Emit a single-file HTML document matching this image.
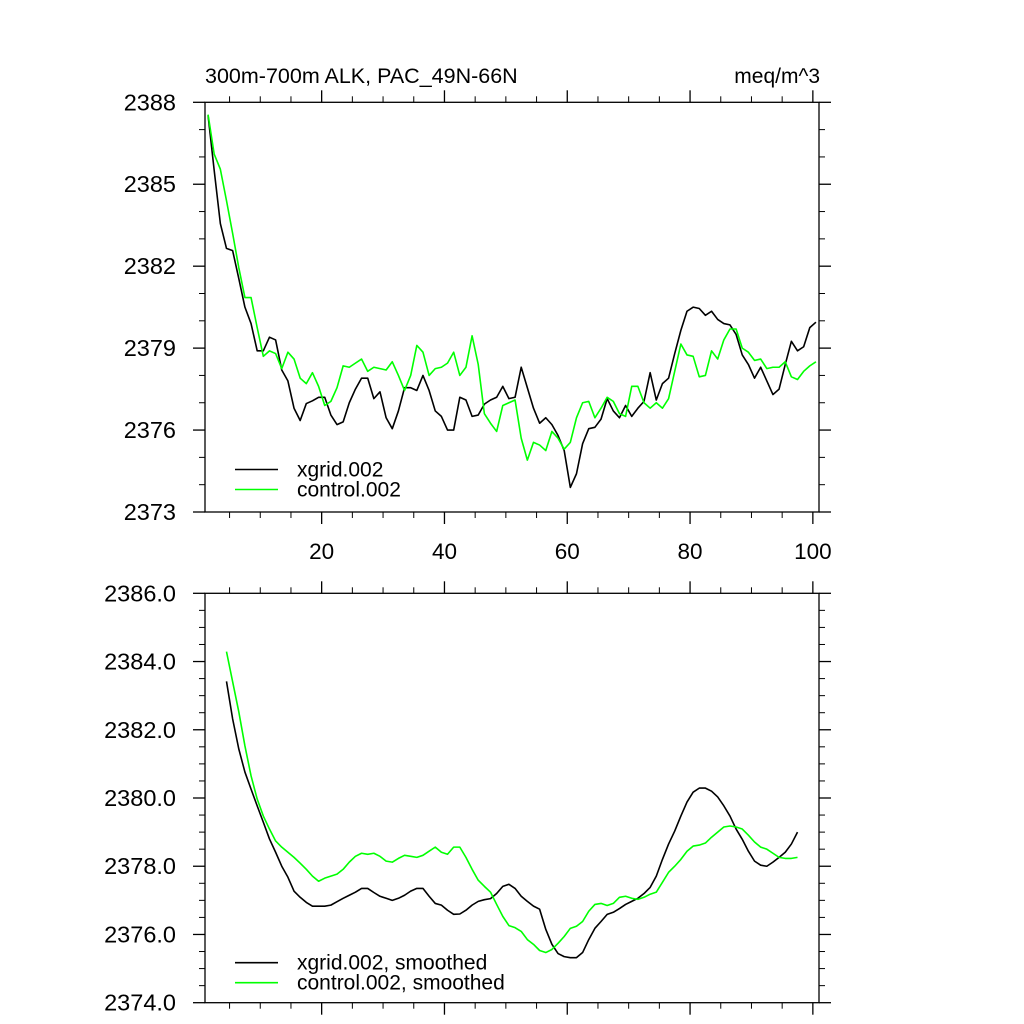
<!DOCTYPE html>
<html><head><meta charset="utf-8"><style>
html,body{margin:0;padding:0;background:#fff;}
svg{display:block;font-family:"Liberation Sans",Arial,sans-serif;}
</style></head><body>
<svg id="chart" width="1024" height="1024" viewBox="0 0 1024 1024" xmlns="http://www.w3.org/2000/svg">
<rect x="0" y="0" width="1024" height="1024" fill="#fff"/>
<text x="205" y="83" font-size="21.5">300m-700m ALK, PAC_49N-66N</text>
<text x="820" y="83" font-size="21">meq/m^3</text>
</svg>
<script>
const topXgrid=[2387.52,2385.5,2383.56,2382.65,2382.57,2381.55,2380.5,2379.9,2378.9,2378.9,2379.4,2379.3,2378.2,2377.8,2376.8,2376.35,2376.97,2377.07,2377.2,2377.2,2376.55,2376.2,2376.3,2377.0,2377.5,2377.9,2377.9,2377.15,2377.4,2376.45,2376.05,2376.7,2377.55,2377.55,2377.45,2378.0,2377.45,2376.7,2376.5,2376.0,2376.0,2377.2,2377.1,2376.5,2376.55,2376.95,2377.1,2377.2,2377.6,2377.15,2377.2,2378.3,2377.55,2376.8,2376.25,2376.45,2376.2,2375.8,2375.25,2373.9,2374.4,2375.5,2376.05,2376.1,2376.4,2377.15,2376.7,2376.45,2376.9,2376.5,2376.8,2377.05,2378.1,2377.1,2377.7,2377.9,2378.8,2379.65,2380.35,2380.5,2380.45,2380.2,2380.35,2380.05,2379.9,2379.85,2379.5,2378.75,2378.4,2377.9,2378.3,2377.8,2377.3,2377.5,2378.4,2379.25,2378.9,2379.05,2379.75,2379.95];
const topControl=[2387.55,2386.1,2385.55,2384.4,2383.2,2381.95,2380.85,2380.85,2379.75,2378.7,2378.9,2378.8,2378.25,2378.85,2378.6,2377.9,2377.7,2378.1,2377.6,2376.9,2377.05,2377.55,2378.35,2378.3,2378.45,2378.6,2378.15,2378.3,2378.25,2378.2,2378.5,2378.0,2377.45,2378.0,2379.1,2378.85,2378.0,2378.25,2378.3,2378.45,2378.85,2378.0,2378.3,2379.45,2378.4,2376.6,2376.25,2375.95,2376.9,2377.0,2377.1,2375.7,2374.9,2375.55,2375.45,2375.25,2375.95,2375.7,2375.3,2375.55,2376.45,2377.0,2377.05,2376.45,2376.8,2377.2,2377.05,2376.6,2376.5,2377.6,2377.6,2377.0,2376.8,2377.0,2376.8,2377.15,2378.15,2379.15,2378.75,2378.7,2377.95,2378.0,2378.9,2378.6,2379.3,2379.7,2379.7,2379.0,2378.85,2378.55,2378.6,2378.25,2378.3,2378.3,2378.5,2377.95,2377.85,2378.15,2378.35,2378.5];
const smoothXgrid=[2383.42,2382.32,2381.44,2380.76,2380.26,2379.77,2379.29,2378.8,2378.41,2378.0,2377.68,2377.27,2377.09,2376.94,2376.83,2376.83,2376.83,2376.86,2376.96,2377.06,2377.15,2377.24,2377.35,2377.35,2377.23,2377.12,2377.06,2377.0,2377.06,2377.15,2377.27,2377.35,2377.35,2377.12,2376.91,2376.86,2376.71,2376.59,2376.6,2376.71,2376.86,2376.97,2377.02,2377.05,2377.2,2377.41,2377.47,2377.35,2377.12,2376.97,2376.83,2376.74,2376.15,2375.71,2375.44,2375.35,2375.32,2375.32,2375.47,2375.85,2376.18,2376.38,2376.59,2376.65,2376.76,2376.88,2376.97,2377.06,2377.2,2377.38,2377.71,2378.2,2378.65,2379.03,2379.47,2379.88,2380.17,2380.29,2380.29,2380.2,2380.03,2379.77,2379.47,2379.09,2378.79,2378.44,2378.15,2378.03,2378.0,2378.12,2378.26,2378.41,2378.65,2379.0];
const smoothControl=[2384.29,2383.41,2382.53,2381.53,2380.65,2379.97,2379.47,2379.09,2378.74,2378.56,2378.41,2378.26,2378.09,2377.91,2377.71,2377.56,2377.65,2377.71,2377.77,2377.91,2378.12,2378.29,2378.38,2378.35,2378.38,2378.29,2378.15,2378.12,2378.23,2378.32,2378.29,2378.26,2378.32,2378.44,2378.56,2378.41,2378.35,2378.56,2378.56,2378.26,2377.91,2377.59,2377.41,2377.24,2376.88,2376.53,2376.26,2376.2,2376.09,2375.85,2375.71,2375.53,2375.47,2375.56,2375.74,2375.94,2376.18,2376.24,2376.38,2376.68,2376.88,2376.91,2376.85,2376.91,2377.09,2377.12,2377.06,2377.03,2377.09,2377.18,2377.24,2377.53,2377.82,2378.0,2378.2,2378.44,2378.59,2378.62,2378.68,2378.85,2379.0,2379.15,2379.18,2379.15,2379.09,2378.91,2378.71,2378.56,2378.5,2378.38,2378.26,2378.23,2378.23,2378.26];
const xTickLabels=["20","40","60","80","100"];
const topYTicks=["2373","2376","2379","2382","2385","2388"];
const botYTicks=["2374.0","2376.0","2378.0","2380.0","2382.0","2384.0","2386.0"];

const NS="http://www.w3.org/2000/svg";
const svg=document.getElementById('chart');
svg.lastElementChild.setAttribute('text-anchor','end');
function mk(tag,attrs,parent){const e=document.createElementNS(NS,tag);for(const k in attrs)e.setAttribute(k,attrs[k]);(parent||svg).appendChild(e);return e;}

const L=205,R=819,XMIN=1,XMAX=101;
function xs(v){return L+(v-XMIN)/(XMAX-XMIN)*(R-L);}

function panel(name,T,B,ymin,ymax,yMajor,yMinor,ylabels,series,legend,showX){
  const g=mk('g',{});
  
  
  const ys=v=>B-(v-ymin)/(ymax-ymin)*(B-T);
  const ax=mk('g',{stroke:'#000','stroke-width':1.3,fill:'none'},g);
  
  
  mk('rect',{x:L,y:T,width:R-L,height:B-T},ax);
  for(let v=5;v<=XMAX;v+=5){const x=xs(v);const maj=v%20===0;const len=maj?12:6;
    mk('line',{x1:x,y1:B,x2:x,y2:B+len,'stroke-width':maj?1.3:1},ax);
    mk('line',{x1:x,y1:T,x2:x,y2:T-len,'stroke-width':maj?1.3:1},ax);}
  for(let v=ymin;v<=ymax+1e-9;v+=yMinor){const y=ys(v);const maj=Math.abs((v-ymin)/yMajor-Math.round((v-ymin)/yMajor))<1e-6;const len=maj?12:6;
    mk('line',{x1:L,y1:y,x2:L-len,y2:y,'stroke-width':maj?1.3:1},ax);
    mk('line',{x1:R,y1:y,x2:R+len,y2:y,'stroke-width':maj?1.3:1},ax);}
  ylabels.forEach((lab,k)=>{const v=ymin+k*yMajor;const t=mk('text',{x:176,y:ys(v)+8,'font-size':23.5,'text-anchor':'end'},g);t.textContent=lab;
    
    });
  if(showX){xTickLabels.forEach(lab=>{const t=mk('text',{x:xs(+lab),y:B+47,'font-size':22.5,'text-anchor':'middle'},g);t.textContent=lab;
    
    });}
  series.forEach(s=>{
    const pts=s.data.map((v,i)=>xs(1.5+s.start+i).toFixed(2)+','+ys(v).toFixed(2)).join(' ');
    const p=mk('polyline',{points:pts,fill:'none',stroke:s.color,'stroke-width':1.6,'stroke-linejoin':'round'},g);
    
    
  });
  legend.forEach((lg,k)=>{
    const y=lg.y;
    const le=mk('g',{},g);
    
    
    mk('line',{x1:235,y1:y,x2:278,y2:y,stroke:lg.color,'stroke-width':1.6},le);
    const t=mk('text',{x:297,y:y+7,'font-size':21},le);t.textContent=lg.text;
  });
}
panel('top-panel',102.3,512,2373,2388,3,1,topYTicks,
  [{name:'xgrid-line',data:topXgrid,color:'#000',start:0},{name:'control-line',data:topControl,color:'#00ff00',start:0}],
  [{y:469.5,color:'#000',text:'xgrid.002'},{y:489.5,color:'#00ff00',text:'control.002'}],true);
panel('bottom-panel',593.3,1002.7,2374,2386,2,0.5,botYTicks,
  [{name:'xgrid-smoothed-line',data:smoothXgrid,color:'#000',start:3},{name:'control-smoothed-line',data:smoothControl,color:'#00ff00',start:3}],
  [{y:962.7,color:'#000',text:'xgrid.002, smoothed'},{y:982.7,color:'#00ff00',text:'control.002, smoothed'}],false);
</script>
</body></html>
